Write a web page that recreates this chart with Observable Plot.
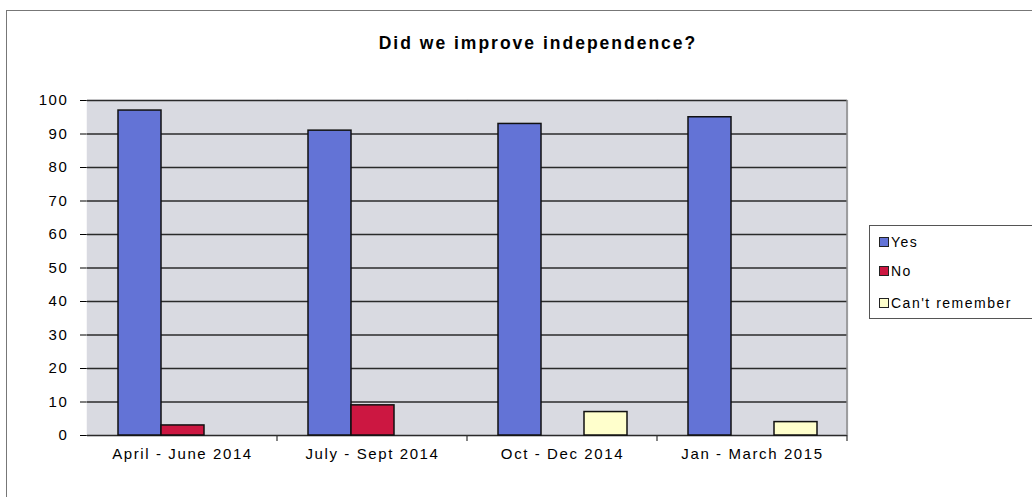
<!DOCTYPE html>
<html>
<head>
<meta charset="utf-8">
<script src="https://cdn.jsdelivr.net/npm/d3@7"></script>
<script src="https://cdn.jsdelivr.net/npm/@observablehq/plot@0.6"></script>
<style>
  html, body { margin: 0; padding: 0; background: #fff; }
  #page { position: relative; width: 1032px; height: 497px; overflow: hidden; font-family: "Liberation Sans", Arial, sans-serif; }
  #border { position: absolute; left: 6px; top: 10px; width: 1100px; height: 600px; border-left: 1.5px solid #777; border-top: 1.5px solid #777; }
  #title { position: absolute; left: 238px; top: 33px; width: 600px; text-align: center; font-weight: bold; font-size: 17.5px; letter-spacing: 2px; color: #000; }
  #chart { position: absolute; left: 0; top: 80px; }
  #legend { position: absolute; left: 869px; top: 225px; width: 170px; height: 92px; border: 1.5px solid #555; background: #fff; }
  .item { position: absolute; left: 9px; font-size: 14px; letter-spacing: 1.5px; color: #000; line-height: 16px; }
  .sw { display: inline-block; width: 8px; height: 8px; border: 1.5px solid #222; margin-right: 2px; vertical-align: 0px; }
</style>
</head>
<body>
<div id="page">
  <div id="border"></div>
  <div id="title">Did we improve independence?</div>
  <div id="chart"></div>
  <div id="legend"></div>
</div>
<script>
const periods = ["April - June 2014", "July - Sept 2014", "Oct - Dec 2014", "Jan - March 2015"];
const series = ["Yes", "No", "Can't remember"];
const yesValues = [97, 91, 93, 95];
const noValues = [3, 9, null, null];
const cantValues = [null, null, 7, 4];
const colors = ["#6373d6", "#cc1741", "#ffffcc"];
const yTicks = [0, 10, 20, 30, 40, 50, 60, 70, 80, 90, 100];

const seriesValues = [yesValues, noValues, cantValues];
const data = [];
periods.forEach((p, i) => {
  series.forEach((s, j) => {
    const v = seriesValues[j][i];
    if (v != null) data.push({period: p, series: s, value: v});
  });
});

const W = 860, H = 400, ML = 85, MR = 12, MT = 20, MB = 45;

const chart = Plot.plot({
  width: W,
  height: H,
  marginTop: MT,
  marginBottom: MB,
  marginLeft: ML,
  marginRight: MR,
  style: {fontFamily: "'Liberation Sans', Arial, sans-serif", fontSize: "15px", letterSpacing: "1.6px", color: "#000", background: "transparent"},
  fx: {domain: periods, padding: 0, label: null, tickSize: 0, tickPadding: 13},
  x: {domain: series, paddingInner: 0, paddingOuter: 0.7, axis: null},
  y: {domain: [0, 100], ticks: yTicks, tickSize: 7, tickPadding: 12, line: true, label: null},
  color: {domain: series, range: colors},
  marks: [
    Plot.frame({fill: "#d9dae1", stroke: "#d9dae1", strokeWidth: 1.5}),
    Plot.ruleY(yTicks, {stroke: "#2a2a2a", strokeWidth: 1.3}),
    Plot.barY(data, {fx: "period", x: "series", y: "value", fill: "series", stroke: "#111", strokeWidth: 1.5})
  ]
});
document.getElementById("chart").appendChild(chart);

// category boundary ticks and right border, from the fx and y scales
const svg = d3.select(chart);
const ys = chart.scale("y");
const y0 = ys.apply(0), y100 = ys.apply(100);
let fxs = null;
try { fxs = chart.scale("fx"); } catch (e) { fxs = null; }
if (fxs) {
  const bounds = periods.map(p => fxs.apply(p) + fxs.bandwidth);
  const g = svg.append("g");
  bounds.forEach(b => {
    g.append("line").attr("x1", b).attr("x2", b).attr("y1", y0).attr("y2", y0 + 6).attr("stroke", "#333").attr("stroke-width", 1.2);
  });
  const right = bounds[bounds.length - 1];
  g.append("line").attr("x1", right).attr("x2", right).attr("y1", y100).attr("y2", y0).attr("stroke", "#888").attr("stroke-width", 1.5);
}

// legend
const legend = d3.select("#legend");
const tops = [8, 37, 69];
series.forEach((s, i) => {
  const it = legend.append("div").attr("class", "item").style("top", tops[i] + "px");
  it.append("span").attr("class", "sw").style("background", colors[i]);
  it.append("span").text(s);
});
</script>
</body>
</html>
